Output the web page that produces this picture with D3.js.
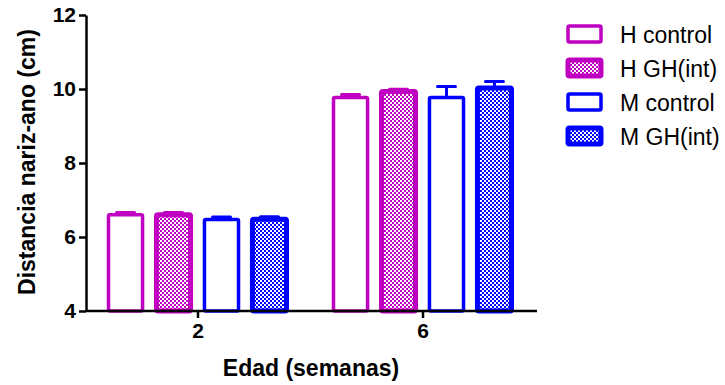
<!DOCTYPE html>
<html>
<head>
<meta charset="utf-8">
<script src="https://cdn.jsdelivr.net/npm/d3@7"></script>
<style>
body { margin: 0; background: #fff; }
svg { font-family: Arial, "Liberation Sans", sans-serif; }
</style>
</head>
<body>
<div id="chart"></div>
<script>
var weeks = ["2", "6"];
var series = ["H control", "H GH(int)", "M control", "M GH(int)"];
var colors = ["#c000c0", "#c000c0", "#0000ff", "#0000ff"];
var patterned = [false, true, false, true];
// mean per series, one value per week
var means = [
	[6.60, 9.77],
	[6.60, 9.93],
	[6.47, 9.77],
	[6.48, 10.03]
];
var errs = [
	[0.06, 0.08],
	[0.06, 0.06],
	[0.07, 0.30],
	[0.07, 0.17]
];
var yTicks = [4, 6, 8, 10, 12];

var width = 725, height = 385;
var svg = d3.select("#chart")
	.append("svg")
	.attr("width", width)
	.attr("height", height);

var defs = svg.append("defs");
["#c000c0", "#0000ff"].forEach(function(c, i) {
	var p = defs.append("pattern")
		.attr("id", "chk" + i)
		.attr("patternUnits", "userSpaceOnUse")
		.attr("width", 4)
		.attr("height", 4);
	p.append("rect").attr("width", 4).attr("height", 4).attr("fill", c);
	p.append("rect").attr("x", 0).attr("y", 0).attr("width", 2).attr("height", 2).attr("fill", "#fff")
		.attr("shape-rendering", "crispEdges");
	p.append("rect").attr("x", 2).attr("y", 2).attr("width", 2).attr("height", 2).attr("fill", "#fff")
		.attr("shape-rendering", "crispEdges");
});
function fillFor(i) {
	if (!patterned[i]) return "#fff";
	return "url(#chk" + (colors[i] == "#c000c0" ? 0 : 1) + ")";
}

var x = d3.scalePoint()
	.domain(weeks)
	.range([85, 535])
	.padding(0.5);
var xs = d3.scaleBand()
	.domain(series)
	.range([-89, 89])
	.paddingInner(0.29);
var y = d3.scaleLinear()
	.domain([4, 12])
	.range([311, 15]);

// bars
for (var s = 0; s < series.length; s++) {
	for (var w = 0; w < weeks.length; w++) {
		var bx = x(weeks[w]) + xs(series[s]);
		var bw = xs.bandwidth();
		var by = y(means[s][w]);
		var g = svg.append("g");
		// error bar (upper only)
		var eTop = y(means[s][w] + errs[s][w]);
		g.append("line")
			.attr("x1", bx + bw / 2).attr("x2", bx + bw / 2)
			.attr("y1", by).attr("y2", eTop)
			.attr("stroke", colors[s]).attr("stroke-width", 3);
		g.append("line")
			.attr("x1", bx + bw / 2 - 9).attr("x2", bx + bw / 2 + 9)
			.attr("y1", eTop).attr("y2", eTop)
			.attr("stroke", colors[s]).attr("stroke-width", 3)
			.attr("stroke-linecap", "round");
		g.append("rect")
			.attr("x", bx)
			.attr("y", by)
			.attr("width", bw)
			.attr("height", y(4) - by)
			.attr("fill", fillFor(s))
			.attr("stroke", colors[s])
			.attr("stroke-width", patterned[s] ? 5 : 3.5)
			.attr("rx", 1.5);
	}
}

// axes
var yAxis = svg.append("g")
	.attr("transform", "translate(86,0)")
	.call(d3.axisLeft(y).tickValues(yTicks).tickSize(7).tickSizeOuter(0).tickPadding(3));
var xAxis = svg.append("g")
	.attr("transform", "translate(0,311)")
	.call(d3.axisBottom(x).tickSize(7).tickSizeOuter(0).tickPadding(5));
xAxis.select(".domain").attr("d", "M86,0H537");
[yAxis, xAxis].forEach(function(a) {
	a.selectAll(".domain, .tick line").attr("stroke", "#000").attr("stroke-width", 2.5);
	a.selectAll("text")
		.attr("fill", "#000")
		.style("font-size", "21px")
		.style("font-weight", "bold")
		.style("font-family", "Arial, 'Liberation Sans', sans-serif");
});

svg.append("text")
	.attr("x", 311)
	.attr("y", 376)
	.attr("text-anchor", "middle")
	.style("font-size", "23px")
	.style("font-weight", "bold")
	.text("Edad (semanas)");
svg.append("text")
	.attr("transform", "translate(35,162) rotate(-90)")
	.attr("text-anchor", "middle")
	.style("font-size", "23px")
	.style("font-weight", "bold")
	.text("Distancia nariz-ano (cm)");

// legend
var leg = svg.append("g").attr("transform", "translate(568,26)");
series.forEach(function(name, i) {
	var row = leg.append("g").attr("transform", "translate(0," + (i * 34) + ")");
	row.append("rect")
		.attr("x", 0).attr("y", 0)
		.attr("width", 33).attr("height", 16)
		.attr("rx", 1.5)
		.attr("fill", fillFor(i))
		.attr("stroke", colors[i])
		.attr("stroke-width", patterned[i] ? 5 : 3.5);
	row.append("text")
		.attr("x", 52)
		.attr("y", 17)
		.style("font-size", "23px")
		.text(name);
});
</script>
</body>
</html>
